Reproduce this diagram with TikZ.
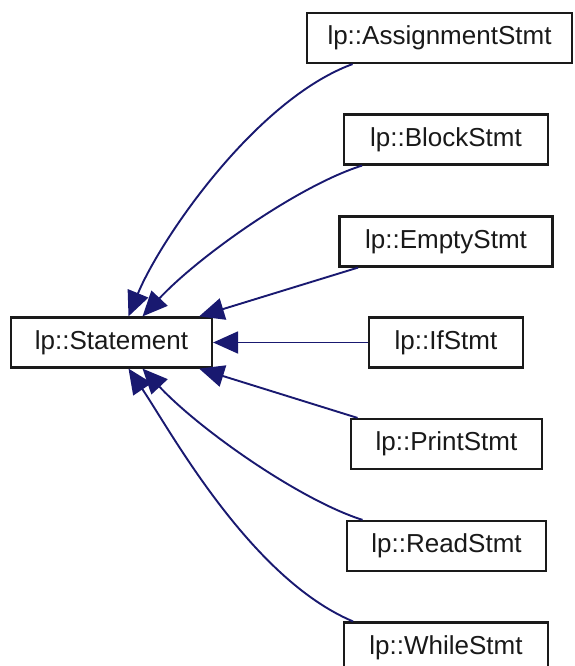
\documentclass[tikz,border=0pt]{standalone}
\usepackage{fontspec}
\setmainfont{Liberation Sans}
\usetikzlibrary{arrows.meta}
\definecolor{edgeblue}{HTML}{191970}
\definecolor{boxline}{HTML}{1A1A1A}
\tikzset{
  cls/.style={draw=boxline, line width=2.2pt, fill=white, inner sep=0pt,
    minimum height=50pt, font=\fontsize{26}{30}\selectfont, text=black!90},
  inherit/.style={draw=edgeblue, line width=1.9pt,
    -{Triangle[length=25pt,width=22pt]}, fill=none},
}
\begin{document}
\begin{tikzpicture}[x=1pt,y=-1pt]
  \useasboundingbox (0,0) rectangle (574,666);

  % base class
  \node[cls, minimum width=201pt] (st) at (111.5,342.5) {lp::Statement};

  % derived classes
  \node[cls, minimum width=265pt] (as) at (439.5,38)  {lp::AssignmentStmt};
  \node[cls, minimum width=204pt] (bl) at (446,139.5) {lp::BlockStmt};
  \node[cls, minimum width=213pt] (em) at (446,241.5) {lp::EmptyStmt};
  \node[cls, minimum width=154pt] (if) at (446,342.5) {lp::IfStmt};
  \node[cls, minimum width=191pt] (pr) at (446.5,444) {lp::PrintStmt};
  \node[cls, minimum width=199pt] (rd) at (446.5,546) {lp::ReadStmt};
  \node[cls, minimum width=204pt] (wh) at (446,647.5) {lp::WhileStmt};

  % inheritance edges
  \draw[inherit] ([xshift=-87pt]as.south) .. controls (255,100) and (160,240) .. ([xshift=17pt]st.north);
  \draw[inherit] ([xshift=-84pt]bl.south) .. controls (300,185) and (200,255) .. ([xshift=31pt]st.north);
  \draw[inherit] ([xshift=-88pt]em.south) -- ([xshift=-14pt]st.north east);
  \draw[inherit] (if.west) -- (st.east);
  \draw[inherit] ([xshift=-89pt]pr.north) -- ([xshift=-14pt]st.south east);
  \draw[inherit] ([xshift=-84pt]rd.north) .. controls (300,500) and (200,430) .. ([xshift=31pt]st.south);
  \draw[inherit] ([xshift=-93pt]wh.north) .. controls (250,578) and (170,430) .. ([xshift=17pt]st.south);
\end{tikzpicture}
\end{document}
